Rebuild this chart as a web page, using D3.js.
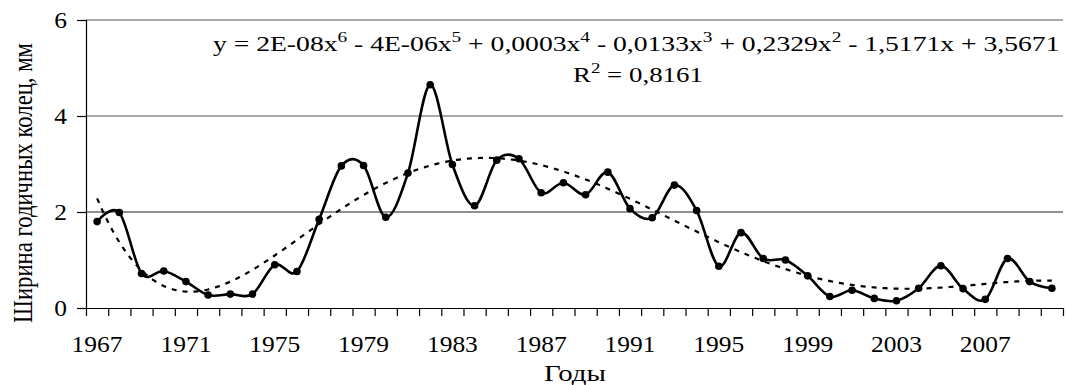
<!DOCTYPE html>
<html>
<head>
<meta charset="utf-8">
<script src="https://cdn.jsdelivr.net/npm/d3@7/dist/d3.min.js"></script>
<style>
  html, body { margin: 0; padding: 0; background: #fff; }
  svg { display: block; }
  text { font-family: "Liberation Serif", "Times New Roman", serif; fill: #000; }
</style>
</head>
<body>
<svg id="chart" width="1067" height="385"></svg>
<script>
// Tree-ring width by year, mm
const years = [1967, 1968, 1969, 1970, 1971, 1972, 1973, 1974, 1975, 1976, 1977,
  1978, 1979, 1980, 1981, 1982, 1983, 1984, 1985, 1986, 1987, 1988, 1989, 1990,
  1991, 1992, 1993, 1994, 1995, 1996, 1997, 1998, 1999, 2000, 2001, 2002, 2003,
  2004, 2005, 2006, 2007, 2008, 2009, 2010];
const ringWidth = [1.80, 1.99, 0.72, 0.77, 0.55, 0.27, 0.29, 0.29, 0.90, 0.76, 1.85,
  2.96, 2.97, 1.89, 2.81, 4.65, 2.99, 2.13, 3.08, 3.11, 2.40, 2.61, 2.36, 2.83,
  2.07, 1.88, 2.56, 2.03, 0.87, 1.57, 1.03, 1.00, 0.67, 0.24, 0.37, 0.20, 0.15,
  0.41, 0.88, 0.40, 0.18, 1.03, 0.55, 0.41];
const yearLabels = [1967, 1971, 1975, 1979, 1983, 1987, 1991, 1995, 1999, 2003, 2007];
const valueTicks = [0, 2, 4, 6];
const trendDegree = 6;
const equationParts = [
  ["y = 2E-08x", "6"], [" - 4E-06x", "5"], [" + 0,0003x", "4"], [" - 0,0133x", "3"],
  [" + 0,2329x", "2"], [" - 1,5171x + 3,5671", null]
];
const rSquaredParts = [["R", "2"], [" = 0,8161", null]];

const svg = d3.select("#chart");
const plotLeft = 86, plotRight = 1063, plotTop = 20, plotBottom = 308;
const labelSize = 23;

const x = d3.scaleBand().domain(years).range([plotLeft, plotRight]).padding(0);
const xEdge = d3.scaleLinear().domain([0, years.length]).range([plotLeft, plotRight]);
const y = d3.scaleLinear().domain([0, 6]).range([plotBottom, plotTop]);

// widen glyphs horizontally about each text's own x anchor
function widen(textSel, factor) {
  textSel.each(function () {
    const t = d3.select(this);
    const ax = +t.attr("x") || 0;
    t.attr("transform", `translate(${ax},0) scale(${factor},1) translate(${-ax},0)`);
  });
}

// gridlines
svg.append("g")
  .selectAll("line")
  .data(valueTicks.filter(v => v > 0))
  .join("line")
  .attr("x1", plotLeft).attr("x2", plotRight)
  .attr("y1", d => y(d)).attr("y2", d => y(d))
  .attr("stroke", d => d === 2 ? "#222" : "#555").attr("stroke-width", 1.2);

// x axis: tick marks at year boundaries
svg.append("g")
  .attr("transform", `translate(0,${plotBottom})`)
  .call(d3.axisBottom(xEdge).tickValues(d3.range(0, years.length + 1)).tickSize(8).tickFormat(""))
  .call(g => g.select(".domain").attr("d", `M${plotLeft},0.5H${plotRight}`).attr("stroke", "#000").attr("stroke-width", 1.2))
  .call(g => g.selectAll(".tick line").attr("stroke", "#000").attr("stroke-width", 1.2));

// x axis labels every fourth year
const xLabels = svg.append("g")
  .attr("transform", `translate(0,${plotBottom})`)
  .call(d3.axisBottom(x).tickValues(yearLabels).tickSize(0).tickPadding(44))
  .call(g => g.select(".domain").remove())
  .call(g => g.attr("font-family", null).attr("font-size", null))
  .call(g => g.selectAll("text").style("font-size", labelSize + "px").attr("dy", 0));

// glyph widening factor taken from a four-digit year label
const sx = 51 / xLabels.select("text").node().getComputedTextLength();
xLabels.selectAll("text").call(widen, sx);

// y axis
svg.append("g")
  .attr("transform", `translate(${plotLeft},0)`)
  .call(d3.axisLeft(y).tickValues(valueTicks).tickFormat(d3.format("d")).tickSize(9).tickPadding(10))
  .call(g => g.attr("font-family", null).attr("font-size", null))
  .call(g => g.select(".domain").attr("d", `M0.5,${plotTop}V${plotBottom}`).attr("stroke", "#000").attr("stroke-width", 1.2))
  .call(g => g.selectAll(".tick line").attr("stroke", "#000").attr("stroke-width", 1.2))
  .call(g => g.selectAll("text").style("font-size", labelSize + "px").attr("dy", "0.34em"))
  .call(g => widen(g.selectAll("text"), sx));

// polynomial trend (least squares over the series index 1..n)
function polyFit(xs, ys, deg) {
  const c = (xs[0] + xs[xs.length - 1]) / 2, h = (xs[xs.length - 1] - xs[0]) / 2;
  const m = deg + 1;
  const A = Array.from({length: m}, () => new Array(m + 1).fill(0));
  xs.forEach((xv, k) => {
    const t = (xv - c) / h;
    const p = d3.range(m).map(i => Math.pow(t, i));
    for (let i = 0; i < m; i++) {
      for (let j = 0; j < m; j++) A[i][j] += p[i] * p[j];
      A[i][m] += p[i] * ys[k];
    }
  });
  for (let i = 0; i < m; i++) {
    let piv = i;
    for (let r = i + 1; r < m; r++) if (Math.abs(A[r][i]) > Math.abs(A[piv][i])) piv = r;
    [A[i], A[piv]] = [A[piv], A[i]];
    for (let r = 0; r < m; r++) {
      if (r === i) continue;
      const f = A[r][i] / A[i][i];
      for (let col = i; col <= m; col++) A[r][col] -= f * A[i][col];
    }
  }
  const coef = A.map((row, i) => row[m] / row[i]);
  return xv => { const t = (xv - c) / h; return coef.reduce((s, a, i) => s + a * Math.pow(t, i), 0); };
}
const idx = years.map((d, i) => i + 1);
const trend = polyFit(idx, ringWidth, trendDegree);
const step = x.bandwidth();
const trendPts = d3.range(1, years.length + 0.001, 0.1)
  .map(v => [x(years[0]) + step / 2 + (v - 1) * step, trend(v)]);

svg.append("path")
  .datum(trendPts)
  .attr("fill", "none")
  .attr("stroke", "#000")
  .attr("stroke-width", 2.2)
  .attr("stroke-dasharray", "5,6")
  .attr("d", d3.line().x(d => d[0]).y(d => y(d[1])));

// smoothed data line with markers
const series = years.map((yr, i) => ({yr, v: ringWidth[i]}));
svg.append("path")
  .datum(series)
  .attr("fill", "none")
  .attr("stroke", "#000")
  .attr("stroke-width", 2.6)
  .attr("d", d3.line().x(d => x(d.yr) + step / 2).y(d => y(d.v)).curve(d3.curveCardinal.tension(0)));

svg.append("g")
  .selectAll("circle")
  .data(series)
  .join("circle")
  .attr("cx", d => x(d.yr) + step / 2)
  .attr("cy", d => y(d.v))
  .attr("r", 3.8)
  .attr("fill", "#000");

// trend equation and R²
function richText(parts, px, py, size, width) {
  const t = svg.append("text").attr("x", px).attr("y", py).style("font-size", size + "px");
  let raised = false;
  parts.forEach(([main, sup]) => {
    const m = t.append("tspan").text(main);
    if (raised) { m.attr("dy", size * 0.45); raised = false; }
    if (sup) {
      t.append("tspan").attr("dy", -size * 0.45).style("font-size", (size * 0.7) + "px").text(sup);
      raised = true;
    }
  });
  const w = t.node().getBBox().width;
  t.attr("transform", `translate(${px},0) scale(${width / w},1) translate(${-px},0)`);
  return t;
}
richText(equationParts, 213, 51, 20, 847);
richText(rSquaredParts, 573, 82, 20, 130);

// axis titles
const xTitle = svg.append("text")
  .attr("x", 575).attr("y", 381)
  .attr("text-anchor", "middle")
  .style("font-size", labelSize + "px")
  .text("Годы");
xTitle.call(widen, 62 / xTitle.node().getComputedTextLength());

const yTitle = svg.append("text")
  .attr("text-anchor", "middle")
  .style("font-size", "22px")
  .text("Ширина годичных колец, мм");
const yLen = yTitle.node().getComputedTextLength();
yTitle.attr("transform", `translate(32,183) rotate(-90) scale(${280 / yLen},1.25)`);
</script>
</body>
</html>
